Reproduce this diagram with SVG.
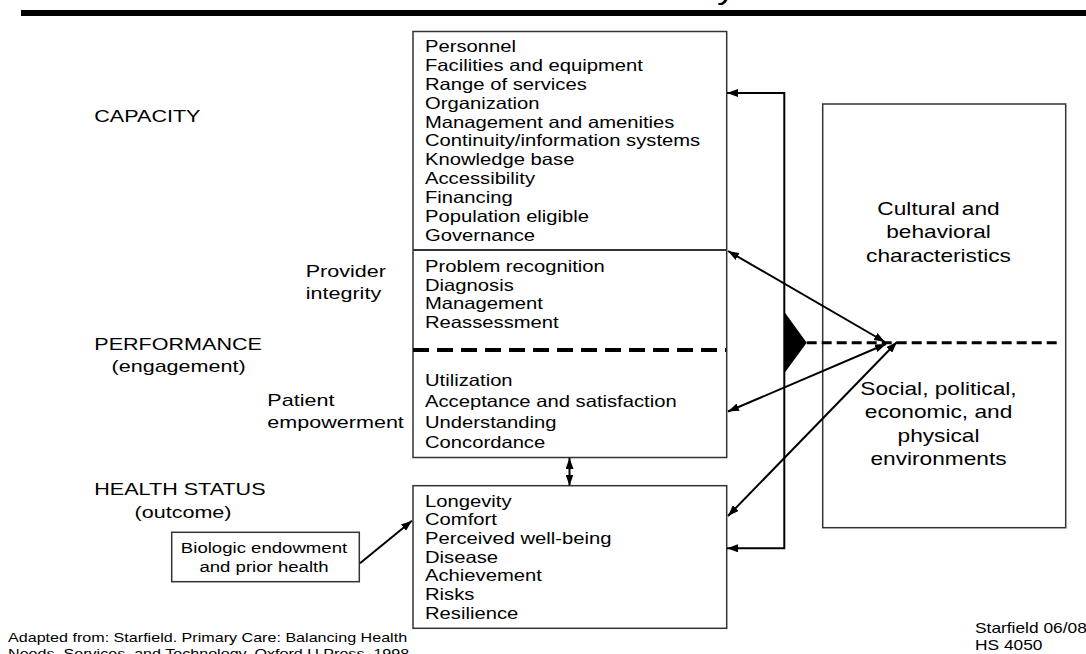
<svg xmlns="http://www.w3.org/2000/svg" width="1086" height="654" viewBox="0 0 1086 654">
<defs>
<style>
text{font-family:"Liberation Sans",Arial,sans-serif;fill:#000}
.box{fill:#fff;stroke:#333;stroke-width:1.5}
.bt{font-size:16.3px}
.lb{font-size:17.4px}
.rt{font-size:18px;text-anchor:middle}
.con{fill:none;stroke:#000;stroke-width:2}
</style>
<marker id="ah" viewBox="0 0 11 8" refX="11" refY="4" markerWidth="11" markerHeight="8" markerUnits="userSpaceOnUse" orient="auto-start-reverse"><path d="M0,0 L11,4 L0,8 z" fill="#000"/></marker>
</defs>
<rect width="1086" height="654" fill="#fff"/>
<g id="title">
<rect x="21" y="10" width="1065" height="6" fill="#000"/>
<text transform="translate(717,-1) scale(1.24,1)" style="font-size:30px">y</text>
</g>
<g id="labels">
<text class="lb" transform="translate(94.3,121.7) scale(1.24,1)">CAPACITY</text>
<text class="lb" transform="translate(305.7,276.7) scale(1.24,1)"><tspan x="0" y="0">Provider</tspan><tspan x="0" y="22.7">integrity</tspan></text>
<text class="lb" transform="translate(94.3,350) scale(1.24,1)">PERFORMANCE</text>
<text class="lb" transform="translate(111.5,371.5) scale(1.24,1)">(engagement)</text>
<text class="lb" transform="translate(267.3,406) scale(1.24,1)"><tspan x="0" y="0">Patient</tspan><tspan x="0" y="21.7">empowerment</tspan></text>
<text class="lb" transform="translate(94.3,495) scale(1.24,1)">HEALTH STATUS</text>
<text class="lb" transform="translate(134.5,517.5) scale(1.24,1)">(outcome)</text>
</g>
<g id="capacity-performance">
<rect class="box" x="413" y="31.5" width="313.7" height="426"/>
<line x1="413" y1="250" x2="726.7" y2="250" stroke="#333" stroke-width="2"/>
<line x1="413" y1="350" x2="726" y2="350" stroke="#000" stroke-width="4" stroke-dasharray="16,8"/>
<text class="bt" transform="translate(425,52.3) scale(1.24,1)">
<tspan x="0" y="0">Personnel</tspan><tspan x="0" y="18.84">Facilities and equipment</tspan><tspan x="0" y="37.68">Range of services</tspan><tspan x="0" y="56.52">Organization</tspan><tspan x="0" y="75.36">Management and amenities</tspan><tspan x="0" y="94.2">Continuity/information systems</tspan><tspan x="0" y="113.04">Knowledge base</tspan><tspan x="0" y="131.88">Accessibility</tspan><tspan x="0" y="150.72">Financing</tspan><tspan x="0" y="169.56">Population eligible</tspan><tspan x="0" y="188.4">Governance</tspan>
</text>
<text class="bt" transform="translate(425,272.3) scale(1.24,1)">
<tspan x="0" y="0">Problem recognition</tspan><tspan x="0" y="18.5">Diagnosis</tspan><tspan x="0" y="37">Management</tspan><tspan x="0" y="55.5">Reassessment</tspan>
</text>
<text class="bt" transform="translate(425,386) scale(1.24,1)">
<tspan x="0" y="0">Utilization</tspan><tspan x="0" y="20.8">Acceptance and satisfaction</tspan><tspan x="0" y="41.6">Understanding</tspan><tspan x="0" y="62.4">Concordance</tspan>
</text>
</g>
<g id="health-status">
<rect class="box" x="413" y="485.7" width="313.7" height="142.6"/>
<text class="bt" transform="translate(425,506.7) scale(1.24,1)">
<tspan x="0" y="0">Longevity</tspan><tspan x="0" y="18.7">Comfort</tspan><tspan x="0" y="37.4">Perceived well-being</tspan><tspan x="0" y="56.1">Disease</tspan><tspan x="0" y="74.8">Achievement</tspan><tspan x="0" y="93.5">Risks</tspan><tspan x="0" y="112.2">Resilience</tspan>
</text>
</g>
<g id="biologic">
<rect class="box" x="171.7" y="532.3" width="187.6" height="49.4"/>
<text transform="translate(264,553.3) scale(1.24,1)" style="font-size:15px;text-anchor:middle"><tspan x="0" y="0">Biologic endowment</tspan><tspan x="0" y="19">and prior health</tspan></text>
</g>
<g id="environment">
<rect class="box" x="822.7" y="104" width="243" height="423.7"/>
<text class="rt" transform="translate(938.5,215) scale(1.26,1)"><tspan x="0" y="0">Cultural and</tspan><tspan x="0" y="23.3">behavioral</tspan><tspan x="0" y="46.6">characteristics</tspan></text>
<text class="rt" transform="translate(938.5,395) scale(1.26,1)"><tspan x="0" y="0">Social, political,</tspan><tspan x="0" y="23.3">economic, and</tspan><tspan x="0" y="46.6">physical</tspan><tspan x="0" y="69.9">environments</tspan></text>
</g>
<g id="connectors">
<path class="con" d="M727,93 L784.3,93 L784.3,548.3 L727,548.3" marker-start="url(#ah)" marker-end="url(#ah)"/>
<path class="con" d="M569.5,458 L569.5,485.5" marker-start="url(#ah)" marker-end="url(#ah)"/>
<path class="con" d="M360,563.3 L412,520.7" marker-end="url(#ah)"/>
<path class="con" d="M728,251 L885,342" marker-start="url(#ah)" marker-end="url(#ah)"/>
<path class="con" d="M728,411.5 L886,344" marker-start="url(#ah)" marker-end="url(#ah)"/>
<path class="con" d="M728,516 L897,342" marker-start="url(#ah)" marker-end="url(#ah)"/>
<polygon points="784.3,311.7 806.7,342.7 784.3,373.3" fill="#000"/>
<line x1="806.7" y1="342.7" x2="1060" y2="342.7" stroke="#000" stroke-width="3" stroke-dasharray="10,5"/>
</g>
<g id="footer">
<text transform="translate(8,642) scale(1.24,1)" style="font-size:13px"><tspan x="0" y="0">Adapted from: Starfield. Primary Care: Balancing Health</tspan><tspan x="0" y="16.5">Needs, Services, and Technology. Oxford U Press, 1998.</tspan></text>
<text transform="translate(975,633.3) scale(1.24,1)" style="font-size:14px"><tspan x="0" y="0">Starfield 06/08</tspan><tspan x="0" y="16.7">HS 4050</tspan></text>
</g>
</svg>
